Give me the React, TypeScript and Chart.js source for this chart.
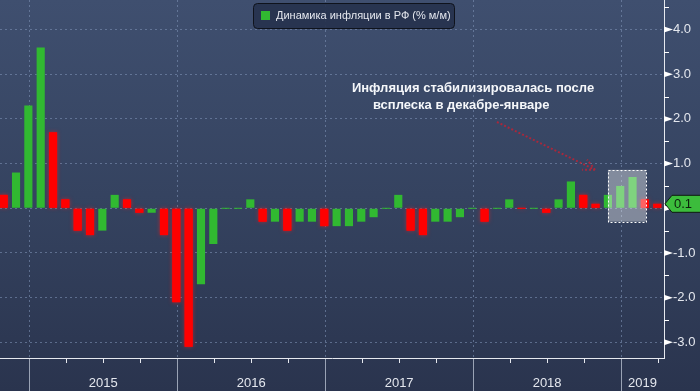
import React, { useEffect, useRef } from 'react';
import { Chart, registerables } from 'chart.js';

Chart.register(...registerables);

// ---------- DATA ----------
const months = [
  '2014-10', '2014-11', '2014-12',
  '2015-01', '2015-02', '2015-03', '2015-04', '2015-05', '2015-06', '2015-07', '2015-08', '2015-09', '2015-10', '2015-11', '2015-12',
  '2016-01', '2016-02', '2016-03', '2016-04', '2016-05', '2016-06', '2016-07', '2016-08', '2016-09', '2016-10', '2016-11', '2016-12',
  '2017-01', '2017-02', '2017-03', '2017-04', '2017-05', '2017-06', '2017-07', '2017-08', '2017-09', '2017-10', '2017-11', '2017-12',
  '2018-01', '2018-02', '2018-03', '2018-04', '2018-05', '2018-06', '2018-07', '2018-08', '2018-09', '2018-10', '2018-11', '2018-12',
  '2019-01', '2019-02', '2019-03',
];

const values = [
  0.3, 0.8, 2.3,
  3.6, 1.7, 0.2, -0.5, -0.6, -0.5, 0.3, 0.2, -0.1, -0.1, -0.6, -2.1,
  -3.1, -1.7, -0.8, 0.0, 0.0, 0.2, -0.3, -0.3, -0.5, -0.3, -0.3, -0.4,
  -0.4, -0.4, -0.3, -0.2, 0.0, 0.3, -0.5, -0.6, -0.3, -0.3, -0.2, 0.0,
  -0.3, 0.0, 0.2, 0.0, 0.0, -0.1, 0.2, 0.6, 0.3, 0.1, 0.3, 0.5,
  0.7, 0.2, 0.1,
];

const yTicks = [-3, -2, -1, 0, 1, 2, 3, 4];
const years = ['2015', '2016', '2017', '2018', '2019'];
const legendLabel = 'Динамика инфляции в РФ (% м/м)';
const noteLines = ['Инфляция стабилизировалась после', 'всплеска в декабре-январе'];

// ---------- STYLE ----------
const GREEN = '#31b931';
const RED = '#ff0000';
const GRID = 'rgba(125,145,180,0.6)';
const TEXT = '#e4e7ee';
const FONT = '"Liberation Sans", Arial, sans-serif';
const MONTH_END = 0.07;

const colors = values.map((v, i) => (i === 0 ? RED : v >= values[i - 1] ? GREEN : RED));
const yearBounds = years.map((yr) => months.indexOf(`${Number(yr) - 1}-12`) + MONTH_END);

const decorPlugin = {
  id: 'decor',
  beforeDraw(chart: any) {
    const { ctx, width, height } = chart;
    const g = ctx.createLinearGradient(0, 0, 0, height);
    g.addColorStop(0, '#3f4f6f');
    g.addColorStop(0.5, '#354360');
    g.addColorStop(1, '#2a344e');
    ctx.save();
    ctx.fillStyle = g;
    ctx.fillRect(0, 0, width, height);
    ctx.restore();
  },
  beforeDatasetsDraw(chart: any) {
    const { ctx, chartArea: ca, scales } = chart;
    const x = scales.x;
    ctx.save();
    ctx.strokeStyle = GRID;
    ctx.lineWidth = 1;
    ctx.setLineDash([2, 3]);
    yearBounds.forEach((b) => {
      const px = Math.round(x.getPixelForValue(b)) + 0.5;
      ctx.beginPath();
      ctx.moveTo(px, ca.top);
      ctx.lineTo(px, ca.bottom);
      ctx.stroke();
    });
    ctx.setLineDash([]);
    // glow behind red bars
    ctx.beginPath();
    ctx.rect(ca.left, ca.top, ca.right - ca.left, ca.bottom - ca.top);
    ctx.clip();
    const meta = chart.getDatasetMeta(0);
    meta.data.forEach((el: any, i: number) => {
      if (colors[i] !== RED) return;
      const p = el.getProps(['x', 'y', 'base', 'width'], true);
      const top = Math.min(p.y, p.base);
      const h = Math.max(Math.abs(p.base - p.y), 1);
      ctx.shadowColor = 'rgba(255,30,30,0.8)';
      ctx.shadowBlur = 4;
      ctx.fillStyle = 'rgba(255,0,0,0.7)';
      ctx.fillRect(p.x - p.width / 2, top, p.width, h);
    });
    ctx.restore();
  },
  afterDatasetsDraw(chart: any) {
    const { ctx, chartArea: ca, scales, width, height } = chart;
    const x = scales.x;
    const y = scales.y;

    // highlight box over Dec–Jan spike
    const bx1 = x.getPixelForValue(49.0);
    const bx2 = x.getPixelForValue(52.1);
    const by1 = y.getPixelForValue(0.86);
    const by2 = y.getPixelForValue(-0.3);
    ctx.save();
    ctx.fillStyle = 'rgba(255,255,255,0.38)';
    ctx.fillRect(bx1, by1, bx2 - bx1, by2 - by1);
    ctx.strokeStyle = '#ffffff';
    ctx.lineWidth = 1;
    ctx.setLineDash([2, 2]);
    ctx.strokeRect(Math.round(bx1) + 0.5, Math.round(by1) + 0.5, Math.round(bx2 - bx1), Math.round(by2 - by1));
    ctx.restore();

    // axes lines
    ctx.save();
    ctx.strokeStyle = '#e6e9ef';
    ctx.lineWidth = 1;
    ctx.beginPath();
    ctx.moveTo(ca.left, ca.bottom + 0.5);
    ctx.lineTo(ca.right + 1, ca.bottom + 0.5);
    ctx.moveTo(ca.right + 0.5, 0);
    ctx.lineTo(ca.right + 0.5, ca.bottom + 1);
    ctx.stroke();

    // year separators below axis
    ctx.strokeStyle = '#9aa3b5';
    yearBounds.forEach((b) => {
      const px = Math.round(x.getPixelForValue(b)) + 0.5;
      ctx.beginPath();
      ctx.moveTo(px, ca.bottom + 1);
      ctx.lineTo(px, height);
      ctx.stroke();
    });
    // quarter ticks
    ctx.strokeStyle = '#e6e9ef';
    yearBounds.forEach((b) => {
      [3, 6, 9].forEach((q) => {
        const v = b + q;
        if (v > x.max) return;
        const px = Math.round(x.getPixelForValue(v)) + 0.5;
        ctx.beginPath();
        ctx.moveTo(px, ca.bottom + 1);
        ctx.lineTo(px, ca.bottom + 5);
        ctx.stroke();
      });
    });

    // year labels
    ctx.fillStyle = TEXT;
    ctx.font = `13px ${FONT}`;
    ctx.textAlign = 'center';
    ctx.textBaseline = 'middle';
    years.forEach((yr, i) => {
      const a = x.getPixelForValue(yearBounds[i]);
      const b = i + 1 < yearBounds.length ? x.getPixelForValue(yearBounds[i + 1]) : ca.right;
      ctx.fillText(yr, (a + b) / 2, ca.bottom + 25);
    });

    // right axis markers
    ctx.fillStyle = '#ffffff';
    ctx.strokeStyle = '#ffffff';
    yTicks.forEach((t) => {
      const py = y.getPixelForValue(t);
      ctx.beginPath();
      ctx.moveTo(ca.right, py - 3);
      ctx.lineTo(ca.right + 9, py);
      ctx.lineTo(ca.right, py + 3);
      ctx.closePath();
      ctx.fill();
      const mid = t + 0.5;
      if (mid < y.max) {
        const pm = Math.round(y.getPixelForValue(mid)) + 0.5;
        ctx.beginPath();
        ctx.moveTo(ca.right, pm);
        ctx.lineTo(ca.right + 5, pm);
        ctx.stroke();
      }
    });

    // last value tag
    const last = values[values.length - 1];
    const yc = y.getPixelForValue(last);
    const tx = ca.right + 1;
    ctx.beginPath();
    ctx.moveTo(tx, yc);
    ctx.lineTo(tx + 7, yc - 8.5);
    ctx.lineTo(width + 5, yc - 8.5);
    ctx.lineTo(width + 5, yc + 8.5);
    ctx.lineTo(tx + 7, yc + 8.5);
    ctx.closePath();
    ctx.fillStyle = '#3cbc3c';
    ctx.fill();
    ctx.strokeStyle = '#0e1a10';
    ctx.lineWidth = 1;
    ctx.stroke();
    ctx.fillStyle = '#0c200c';
    ctx.font = `13px ${FONT}`;
    ctx.textAlign = 'left';
    ctx.textBaseline = 'middle';
    ctx.fillText(last.toFixed(1), tx + 9, yc + 0.5);

    // legend
    const lx = 253.5, ly = 3.5, lw = 201, lh = 25;
    ctx.beginPath();
    ctx.roundRect(lx, ly, lw, lh, 4);
    ctx.fillStyle = 'rgba(38,50,76,0.9)';
    ctx.fill();
    ctx.strokeStyle = '#0f131c';
    ctx.stroke();
    ctx.fillStyle = GREEN;
    ctx.fillRect(261, 11, 9, 9);
    ctx.fillStyle = TEXT;
    ctx.font = `11px ${FONT}`;
    ctx.textAlign = 'left';
    ctx.textBaseline = 'middle';
    ctx.fillText(legendLabel, 276, 16);

    // annotation text
    ctx.fillStyle = '#f5f7fa';
    ctx.font = `bold 13px ${FONT}`;
    ctx.textAlign = 'center';
    ctx.fillText(noteLines[0], x.getPixelForValue(38.06), y.getPixelForValue(2.69));
    ctx.fillText(noteLines[1], x.getPixelForValue(37.1), y.getPixelForValue(2.31));

    // arrow
    const ax1 = x.getPixelForValue(40.0), ay1 = y.getPixelForValue(1.93);
    const ax2 = x.getPixelForValue(47.96), ay2 = y.getPixelForValue(0.86);
    ctx.strokeStyle = '#a8283c';
    ctx.lineWidth = 2;
    ctx.setLineDash([2, 2]);
    ctx.beginPath();
    ctx.moveTo(ax1, ay1);
    ctx.lineTo(ax2, ay2);
    const ang = Math.atan2(ay2 - ay1, ax2 - ax1);
    const hl = 13;
    ctx.moveTo(ax2, ay2);
    ctx.lineTo(ax2 - hl * Math.cos(ang - 0.45), ay2 - hl * Math.sin(ang - 0.45));
    ctx.moveTo(ax2, ay2);
    ctx.lineTo(ax2 - hl * Math.cos(ang + 0.45), ay2 - hl * Math.sin(ang + 0.45));
    ctx.stroke();
    ctx.restore();
  },
};

export default function App() {
  const ref = useRef<HTMLCanvasElement>(null);
  useEffect(() => {
    document.body.style.margin = '0';
    const chart = new Chart(ref.current as HTMLCanvasElement, {
      type: 'bar',
      data: {
        labels: months,
        datasets: [
          {
            label: legendLabel,
            data: values.map((v, i) => ({ x: i, y: v })),
            backgroundColor: colors,
            borderWidth: 0,
            barPercentage: 0.66,
            categoryPercentage: 1,
            minBarLength: 1,
          },
        ],
      },
      options: {
        responsive: false,
        animation: false,
        layout: { padding: 0 },
        plugins: { legend: { display: false }, tooltip: { enabled: false }, title: { display: false } },
        scales: {
          x: {
            type: 'linear',
            min: -0.3,
            max: 53.55,
            offset: false,
            grid: { display: false },
            border: { display: false },
            ticks: { display: false },
            afterFit: (s: any) => {
              s.height = 33;
              s.paddingLeft = 0;
              s.paddingRight = 0;
            },
          },
          y: {
            position: 'right',
            min: -3.35,
            max: 4.66,
            afterBuildTicks: (s: any) => {
              s.ticks = yTicks.map((v) => ({ value: v }));
            },
            grid: { color: GRID, drawTicks: false, lineWidth: 1 },
            border: { display: false, dash: [2, 3] },
            ticks: {
              color: TEXT,
              padding: 9,
              font: { size: 13, family: FONT },
              callback: (v: any) => (Number(v) === 0 ? '' : Number(v).toFixed(1)),
            },
            afterFit: (s: any) => {
              s.width = 36;
              s.paddingTop = 0;
              s.paddingBottom = 0;
            },
          },
        },
      },
      plugins: [decorPlugin],
    } as any);
    return () => chart.destroy();
  }, []);
  return (
    <div style={{ width: 700, height: 391, position: 'relative', overflow: 'hidden' }}>
      <canvas ref={ref} width={700} height={391} style={{ display: 'block', width: 700, height: 391 }} />
    </div>
  );
}
